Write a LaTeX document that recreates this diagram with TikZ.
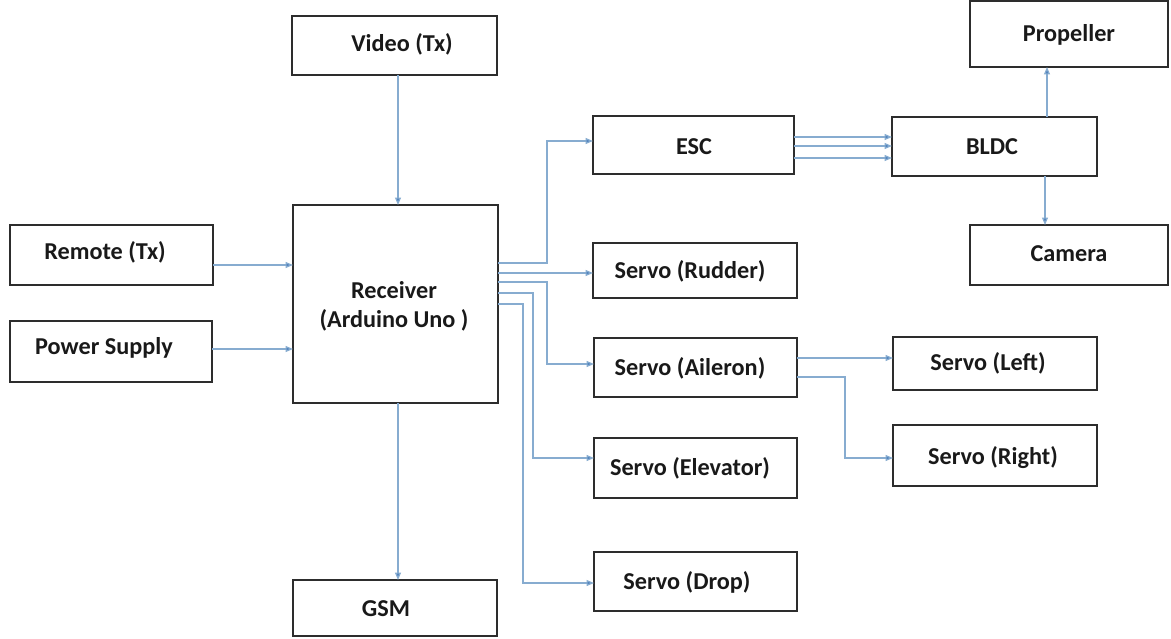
\documentclass[tikz,border=0pt]{standalone}
\usepackage{fontspec}
\setmainfont{Carlito}
\usetikzlibrary{arrows.meta,fit}
\definecolor{wire}{RGB}{135,172,208}
\definecolor{tipc}{RGB}{80,130,190}
\definecolor{edge}{RGB}{45,45,45}
\begin{document}
\begin{tikzpicture}[x=0.02cm,y=-0.02cm,
  blk/.style={draw=edge,line width=0.7pt,inner sep=0pt,outer sep=0pt},
  txt/.style={font=\fontsize{13.8}{16}\selectfont\bfseries,inner sep=0pt,text=black!90},
  wireline/.style={draw=wire,line width=0.7pt,-{Triangle[length=0.15cm,width=0.12cm,fill=tipc]}}]
\useasboundingbox (0,0) rectangle (1171,639);

% blocks
\node[blk,fit={(292,16) (497,75)}] (video) {};
\node[blk,fit={(293,205) (498,403)}] (rec) {};
\node[blk,fit={(10,225) (213,285)}] (remote) {};
\node[blk,fit={(10,321) (212,382)}] (power) {};
\node[blk,fit={(293,580) (497,636)}] (gsm) {};
\node[blk,fit={(593,116) (794,174)}] (esc) {};
\node[blk,fit={(593,243) (797,298)}] (rudder) {};
\node[blk,fit={(594,338) (797,397)}] (aileron) {};
\node[blk,fit={(594,438) (797,498)}] (elevator) {};
\node[blk,fit={(594,552) (797,611)}] (drop) {};
\node[blk,fit={(892,117) (1097,176)}] (bldc) {};
\node[blk,fit={(970,1) (1168,67)}] (prop) {};
\node[blk,fit={(970,225) (1168,285)}] (camera) {};
\node[blk,fit={(893,337) (1097,390)}] (left) {};
\node[blk,fit={(893,425) (1097,486)}] (right) {};

% labels
\node[txt] (videoT) at (402,44) {Video (Tx)};
\node[txt] (recT1) at (394,290) {Receiver};
\node[txt] (recT2) at (394,320) {(Arduino Uno )};
\node[txt] (remoteT) at (105,252) {Remote (Tx)};
\node[txt] (powerT) at (104,348) {Power Supply};
\node[txt] (gsmT) at (386,609) {GSM};
\node[txt] (escT) at (694,147) {ESC};
\node[txt] (rudderT) at (690,271) {Servo (Rudder)};
\node[txt] (aileronT) at (690,368) {Servo (Aileron)};
\node[txt] (elevatorT) at (690,468) {Servo (Elevator)};
\node[txt] (dropT) at (687,582) {Servo (Drop)};
\node[txt] (bldcT) at (992,147) {BLDC};
\node[txt] (propT) at (1069,35) {Propeller};
\node[txt] (cameraT) at (1069,254) {Camera};
\node[txt] (leftT) at (988,363) {Servo (Left)};
\node[txt] (rightT) at (993,458) {Servo (Right)};

% inputs to the receiver
\draw[wireline] (video.south -| 398,0) -- (rec.north -| 398,0);
\draw[wireline] (remote.east |- 0,265) -- (rec.west |- 0,265);
\draw[wireline] (power.east |- 0,349) -- (rec.west |- 0,349);
\draw[wireline] (rec.south -| 398,0) -- (gsm.north -| 398,0);

% receiver outputs
\draw[wireline] (rec.east |- 0,263) -- (547,263) -- (547,141) -- (esc.west |- 0,141);
\draw[wireline] (rec.east |- 0,273) -- (rudder.west |- 0,273);
\draw[wireline] (rec.east |- 0,282) -- (547,282) -- (547,364) -- (aileron.west |- 0,364);
\draw[wireline] (rec.east |- 0,293) -- (533,293) -- (533,458) -- (elevator.west |- 0,458);
\draw[wireline] (rec.east |- 0,304) -- (523,304) -- (523,583) -- (drop.west |- 0,583);

% ESC to motor
\draw[wireline] (esc.east |- 0,137) -- (bldc.west |- 0,137);
\draw[wireline] (esc.east |- 0,146) -- (bldc.west |- 0,146);
\draw[wireline] (esc.east |- 0,158) -- (bldc.west |- 0,158);

% motor to propeller and camera
\draw[wireline] (bldc.north -| 1047,0) -- (prop.south -| 1047,0);
\draw[wireline] (bldc.south -| 1045,0) -- (camera.north -| 1045,0);

% aileron servos
\draw[wireline] (aileron.east |- 0,358) -- (left.west |- 0,358);
\draw[wireline] (aileron.east |- 0,377) -- (845,377) -- (845,458) -- (right.west |- 0,458);
\end{tikzpicture}
\end{document}
